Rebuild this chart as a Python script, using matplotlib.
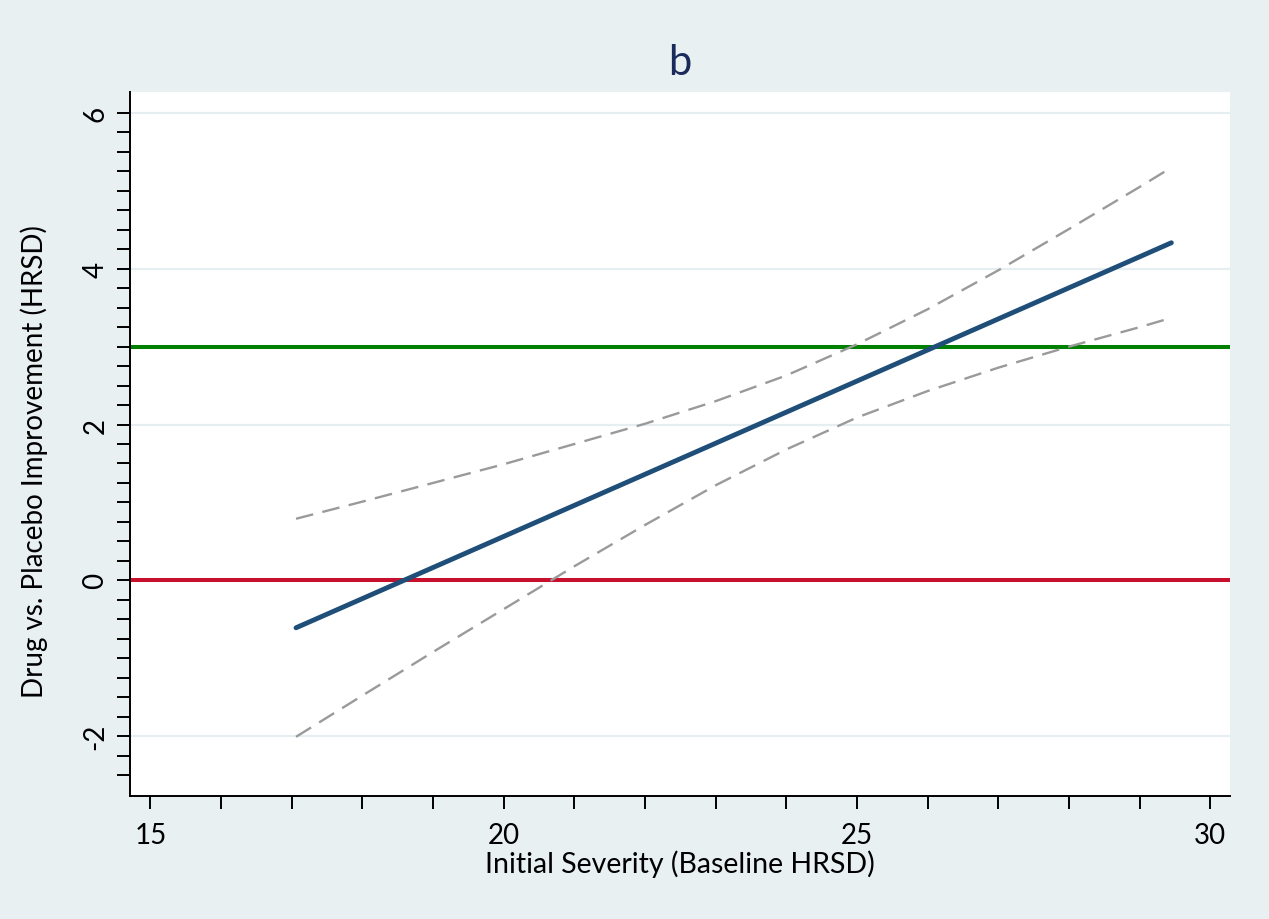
import matplotlib
matplotlib.use("Agg")
import matplotlib.pyplot as plt
import numpy as np

# ---- data ----
severity = [17.06, 18, 19, 20, 21, 22, 23, 24, 25, 26, 27, 28, 29, 29.45]
fitted = [-0.61, -0.235, 0.164, 0.563, 0.962, 1.361, 1.760, 2.159, 2.558, 2.957, 3.356, 3.755, 4.154, 4.334]
upper_ci = [0.79, 1.01, 1.25, 1.49, 1.75, 2.01, 2.30, 2.63, 3.03, 3.48, 3.98, 4.51, 5.05, 5.30]
lower_ci = [-2.01, -1.48, -0.92, -0.37, 0.18, 0.71, 1.22, 1.68, 2.09, 2.43, 2.73, 3.00, 3.25, 3.37]
no_effect = 0
clinical_threshold = 3
x_major = [15, 20, 25, 30]
y_major = [-2, 0, 2, 4, 6]
title = "b"
xlabel = "Initial Severity (Baseline HRSD)"
ylabel = "Drug vs. Placebo Improvement (HRSD)"

plt.rcParams['font.family'] = ['Lato', 'DejaVu Sans']

W, H = 1269, 920
bg = "#E8F0F2"
fig = plt.figure(figsize=(W/100, H/100), dpi=100, facecolor=bg)
ax = fig.add_axes([130/W, 1-797/H, 1100/W, 704/H])
ax.set_facecolor("white")

ax.set_xlim(14.71, 30.28)
ax.set_ylim(-2.77, 6.27)

# gridlines
for yv in y_major:
    ax.axhline(yv, color="#E6EEF1", lw=1.6, zorder=0)

ax.axhline(no_effect, color="#C8102E", lw=2.9, zorder=2)
ax.axhline(clinical_threshold, color="#008000", lw=2.9, zorder=2)

ax.plot(severity, upper_ci, color="#9A9A9A", lw=1.7, dashes=(7.5, 4), zorder=3)
ax.plot(severity, lower_ci, color="#9A9A9A", lw=1.7, dashes=(7.5, 4), zorder=3)
ax.plot(severity, fitted, color="#1F4E79", lw=3.5, solid_capstyle="round", zorder=4)

for s in ["top", "right"]:
    ax.spines[s].set_visible(False)
for s in ["left", "bottom"]:
    ax.spines[s].set_linewidth(1.4)
    ax.spines[s].set_color("black")

ax.set_xticks(np.arange(15, 31, 1), minor=True)
ax.set_xticks(x_major)
ax.set_xticklabels([str(v) for v in x_major])
ax.set_yticks(np.arange(-2.5, 6.01, 0.25), minor=True)
ax.set_yticks(y_major)
ax.set_yticklabels([str(v) for v in y_major], rotation=90, va="center")

ax.tick_params(which="both", direction="out", length=9.5, width=1.4, color="black")
ax.tick_params(axis="x", which="major", labelsize=20, pad=9, labelcolor="black")
ax.tick_params(axis="y", which="major", labelsize=20, pad=6, labelcolor="black")

fig.text(680/W, 1-864/H, xlabel, fontsize=20.5, ha="center", va="center")
fig.text(34/W, 1-462/H, ylabel, fontsize=20, rotation=90, ha="center", va="center")
fig.text(680/W, 1-63/H, title, fontsize=30, color="#1A2A5A", ha="center", va="center")

fig.savefig("out.png", dpi=100, facecolor=bg)
